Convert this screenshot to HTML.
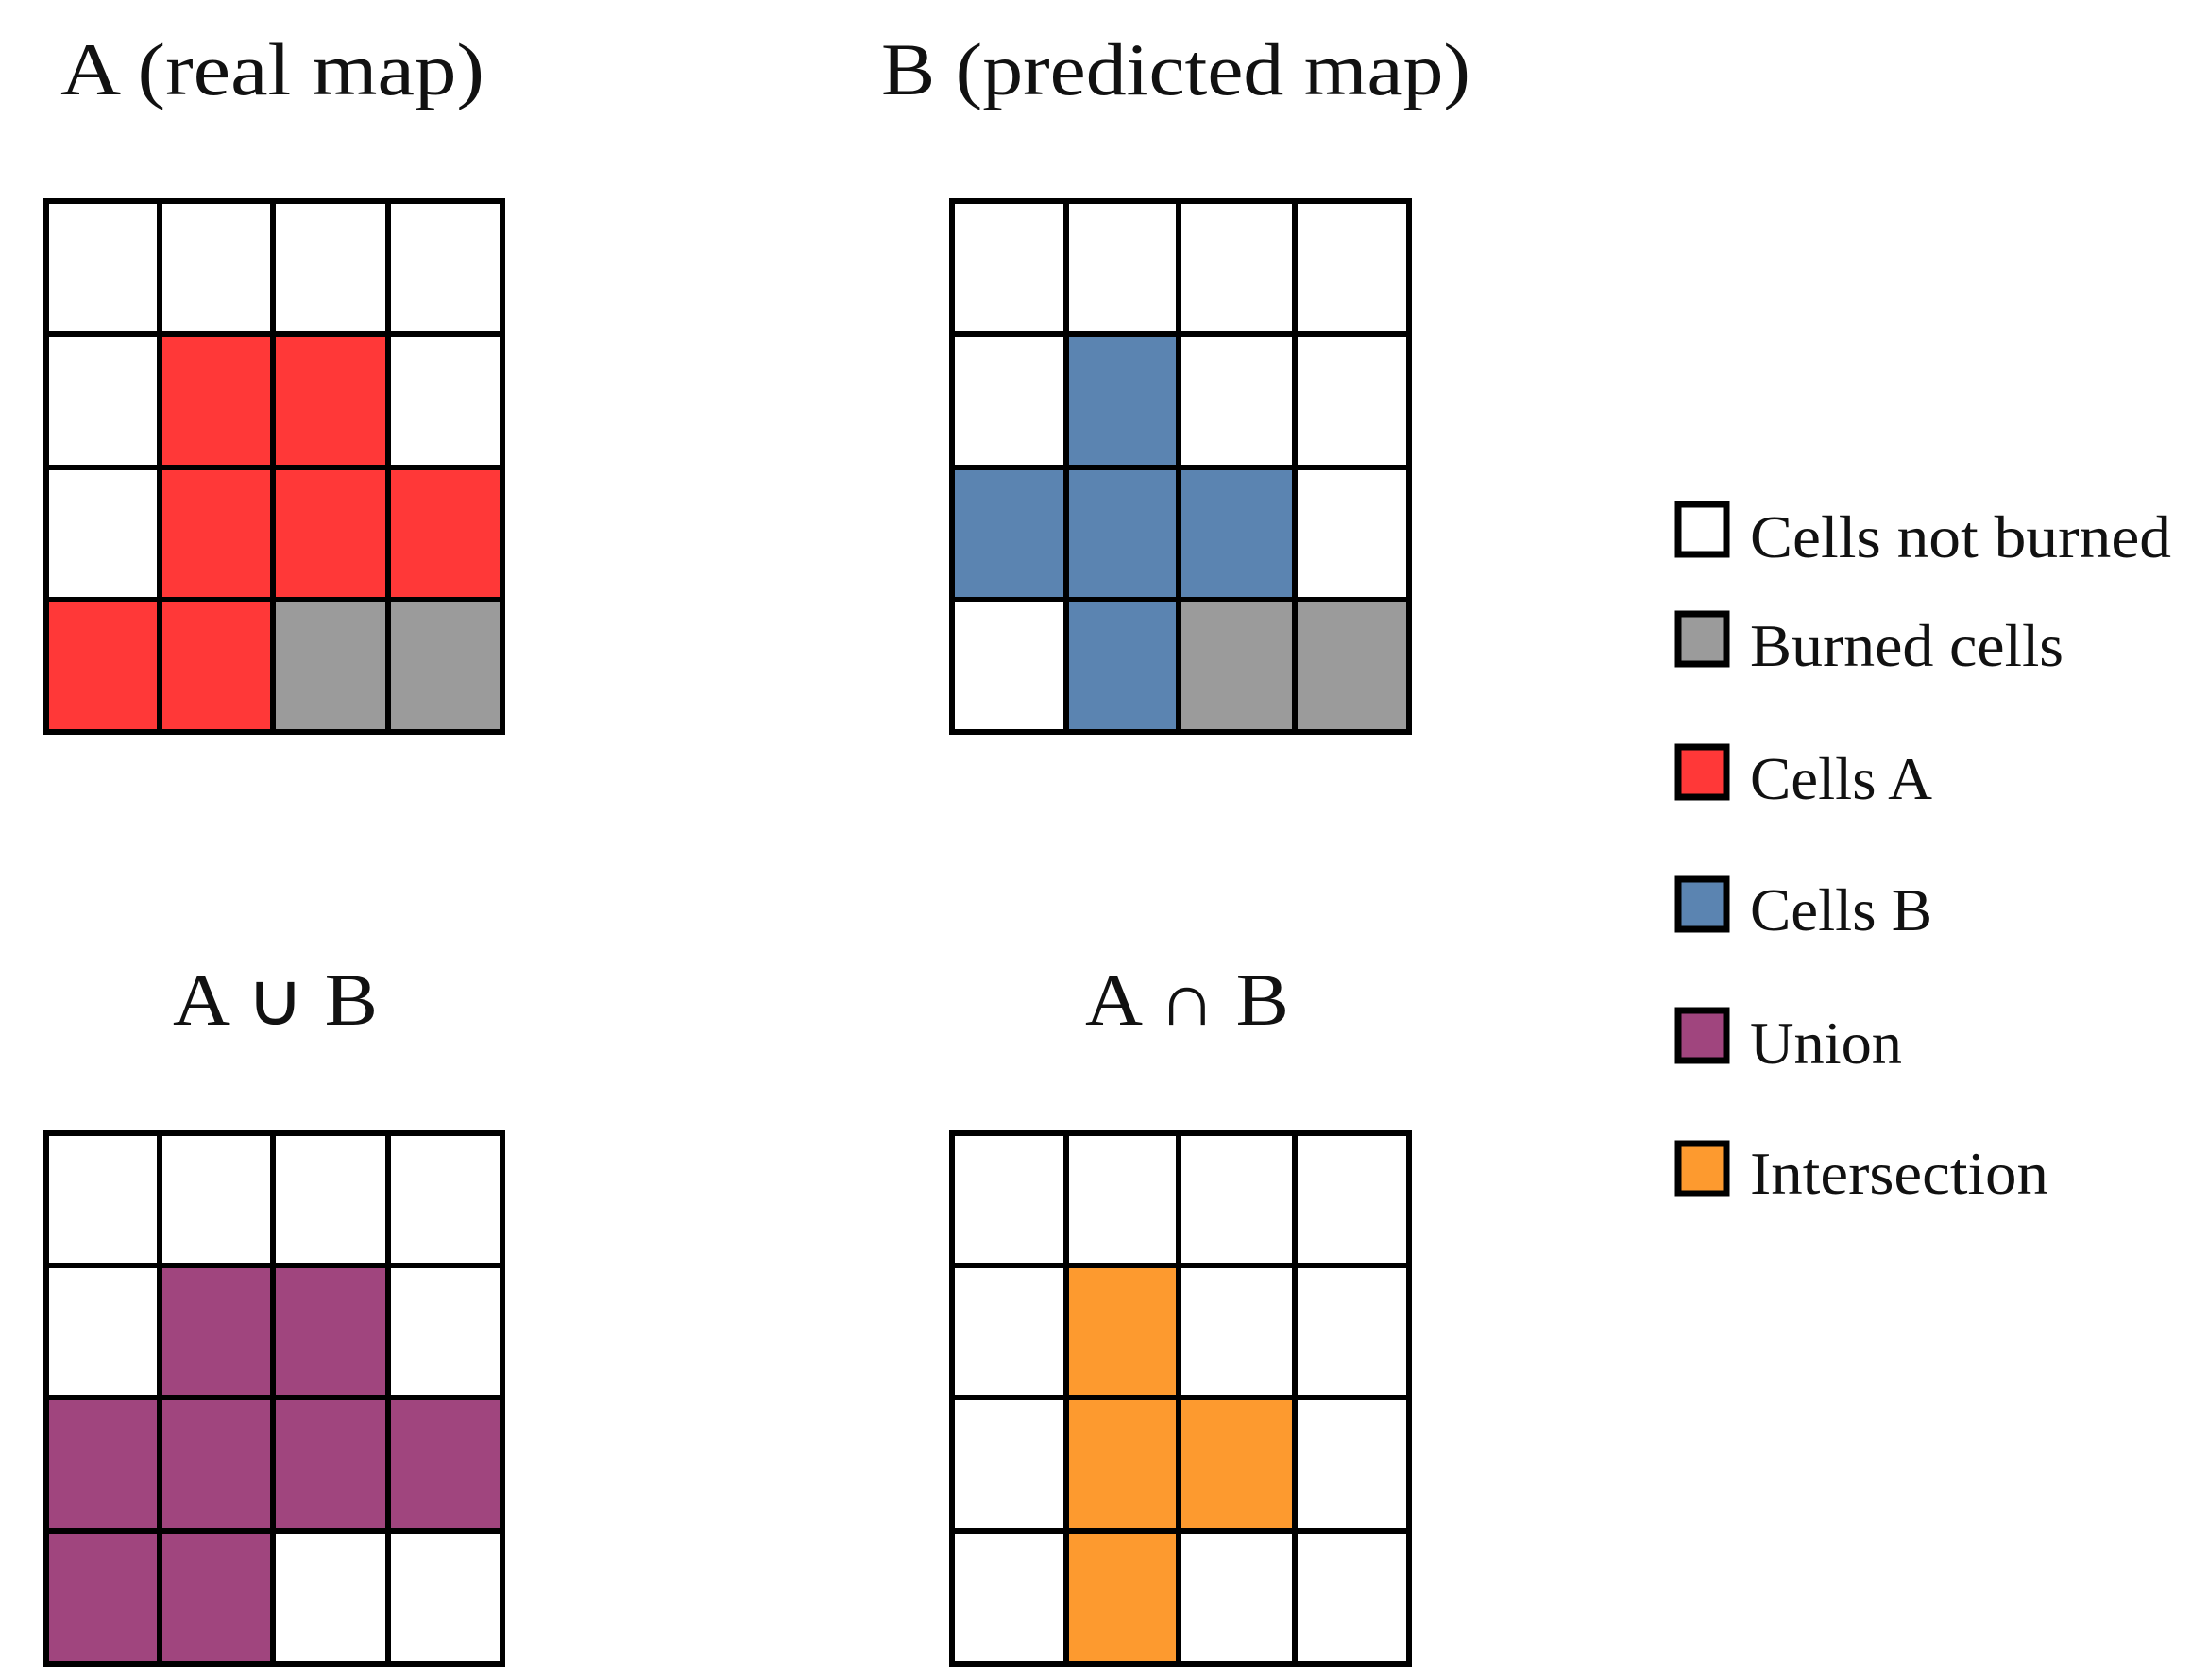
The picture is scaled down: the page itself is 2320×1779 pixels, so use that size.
<!DOCTYPE html>
<html><head><meta charset="utf-8"><style>
html,body{margin:0;padding:0;background:#fff;}
svg{display:block;}
text{font-family:"Liberation Serif",serif;fill:#111;}
</style></head><body>
<svg width="2320" height="1779" viewBox="0 0 2320 1779" xmlns="http://www.w3.org/2000/svg">
<g stroke="#000" stroke-width="6">
<rect x="49" y="213" width="120" height="141" fill="#fff"/><rect x="169" y="213" width="120" height="141" fill="#fff"/><rect x="289" y="213" width="122" height="141" fill="#fff"/><rect x="411" y="213" width="121" height="141" fill="#fff"/>
<rect x="49" y="354" width="120" height="141" fill="#fff"/><rect x="169" y="354" width="120" height="141" fill="#FF3838"/><rect x="289" y="354" width="122" height="141" fill="#FF3838"/><rect x="411" y="354" width="121" height="141" fill="#fff"/>
<rect x="49" y="495" width="120" height="140" fill="#fff"/><rect x="169" y="495" width="120" height="140" fill="#FF3838"/><rect x="289" y="495" width="122" height="140" fill="#FF3838"/><rect x="411" y="495" width="121" height="140" fill="#FF3838"/>
<rect x="49" y="635" width="120" height="140" fill="#FF3838"/><rect x="169" y="635" width="120" height="140" fill="#FF3838"/><rect x="289" y="635" width="122" height="140" fill="#9B9B9B"/><rect x="411" y="635" width="121" height="140" fill="#9B9B9B"/>
</g>
<g stroke="#000" stroke-width="6" transform="translate(-5,0)">
<rect x="1013" y="213" width="121" height="141" fill="#fff"/><rect x="1134" y="213" width="119" height="141" fill="#fff"/><rect x="1253" y="213" width="123" height="141" fill="#fff"/><rect x="1376" y="213" width="121" height="141" fill="#fff"/>
<rect x="1013" y="354" width="121" height="141" fill="#fff"/><rect x="1134" y="354" width="119" height="141" fill="#5B84B1"/><rect x="1253" y="354" width="123" height="141" fill="#fff"/><rect x="1376" y="354" width="121" height="141" fill="#fff"/>
<rect x="1013" y="495" width="121" height="140" fill="#5B84B1"/><rect x="1134" y="495" width="119" height="140" fill="#5B84B1"/><rect x="1253" y="495" width="123" height="140" fill="#5B84B1"/><rect x="1376" y="495" width="121" height="140" fill="#fff"/>
<rect x="1013" y="635" width="121" height="140" fill="#fff"/><rect x="1134" y="635" width="119" height="140" fill="#5B84B1"/><rect x="1253" y="635" width="123" height="140" fill="#9B9B9B"/><rect x="1376" y="635" width="121" height="140" fill="#9B9B9B"/>
</g>
<g stroke="#000" stroke-width="6">
<rect x="49" y="1200" width="120" height="140" fill="#fff"/><rect x="169" y="1200" width="120" height="140" fill="#fff"/><rect x="289" y="1200" width="122" height="140" fill="#fff"/><rect x="411" y="1200" width="121" height="140" fill="#fff"/>
<rect x="49" y="1340" width="120" height="140" fill="#fff"/><rect x="169" y="1340" width="120" height="140" fill="#A0457E"/><rect x="289" y="1340" width="122" height="140" fill="#A0457E"/><rect x="411" y="1340" width="121" height="140" fill="#fff"/>
<rect x="49" y="1480" width="120" height="141" fill="#A0457E"/><rect x="169" y="1480" width="120" height="141" fill="#A0457E"/><rect x="289" y="1480" width="122" height="141" fill="#A0457E"/><rect x="411" y="1480" width="121" height="141" fill="#A0457E"/>
<rect x="49" y="1621" width="120" height="141" fill="#A0457E"/><rect x="169" y="1621" width="120" height="141" fill="#A0457E"/><rect x="289" y="1621" width="122" height="141" fill="#fff"/><rect x="411" y="1621" width="121" height="141" fill="#fff"/>
</g>
<g stroke="#000" stroke-width="6" transform="translate(-5,0)">
<rect x="1013" y="1200" width="121" height="140" fill="#fff"/><rect x="1134" y="1200" width="119" height="140" fill="#fff"/><rect x="1253" y="1200" width="123" height="140" fill="#fff"/><rect x="1376" y="1200" width="121" height="140" fill="#fff"/>
<rect x="1013" y="1340" width="121" height="140" fill="#fff"/><rect x="1134" y="1340" width="119" height="140" fill="#FD9A2F"/><rect x="1253" y="1340" width="123" height="140" fill="#fff"/><rect x="1376" y="1340" width="121" height="140" fill="#fff"/>
<rect x="1013" y="1480" width="121" height="141" fill="#fff"/><rect x="1134" y="1480" width="119" height="141" fill="#FD9A2F"/><rect x="1253" y="1480" width="123" height="141" fill="#FD9A2F"/><rect x="1376" y="1480" width="121" height="141" fill="#fff"/>
<rect x="1013" y="1621" width="121" height="141" fill="#fff"/><rect x="1134" y="1621" width="119" height="141" fill="#FD9A2F"/><rect x="1253" y="1621" width="123" height="141" fill="#fff"/><rect x="1376" y="1621" width="121" height="141" fill="#fff"/>
</g>
<g stroke="#000" stroke-width="7">
<rect x="1777" y="534" width="51" height="53" fill="#fff"/>
<rect x="1777" y="650" width="51" height="53" fill="#9B9B9B"/>
<rect x="1777" y="791" width="51" height="53" fill="#FF3838"/>
<rect x="1777" y="931" width="51" height="53" fill="#5B84B1"/>
<rect x="1777" y="1070" width="51" height="53" fill="#A0457E"/>
<rect x="1777" y="1211" width="51" height="53" fill="#FD9A2F"/>
</g>
<text x="64" y="100" font-size="78" textLength="449" lengthAdjust="spacingAndGlyphs">A (real map)</text>
<text x="933" y="100" font-size="78" textLength="624" lengthAdjust="spacingAndGlyphs">B (predicted map)</text>
<text x="183" y="1085" font-size="78" textLength="217" lengthAdjust="spacingAndGlyphs">A ∪ B</text>
<text x="1149" y="1085" font-size="78" textLength="216" lengthAdjust="spacingAndGlyphs">A ∩ B</text>
<g font-size="64">
<text x="1853" y="590" textLength="446" lengthAdjust="spacingAndGlyphs">Cells not burned</text>
<text x="1853" y="705" textLength="332" lengthAdjust="spacingAndGlyphs">Burned cells</text>
<text x="1853" y="846" textLength="193" lengthAdjust="spacingAndGlyphs">Cells A</text>
<text x="1853" y="985" textLength="193" lengthAdjust="spacingAndGlyphs">Cells B</text>
<text x="1853" y="1126" textLength="161" lengthAdjust="spacingAndGlyphs">Union</text>
<text x="1853" y="1264" textLength="316" lengthAdjust="spacingAndGlyphs">Intersection</text>
</g>
</svg>
</body></html>
